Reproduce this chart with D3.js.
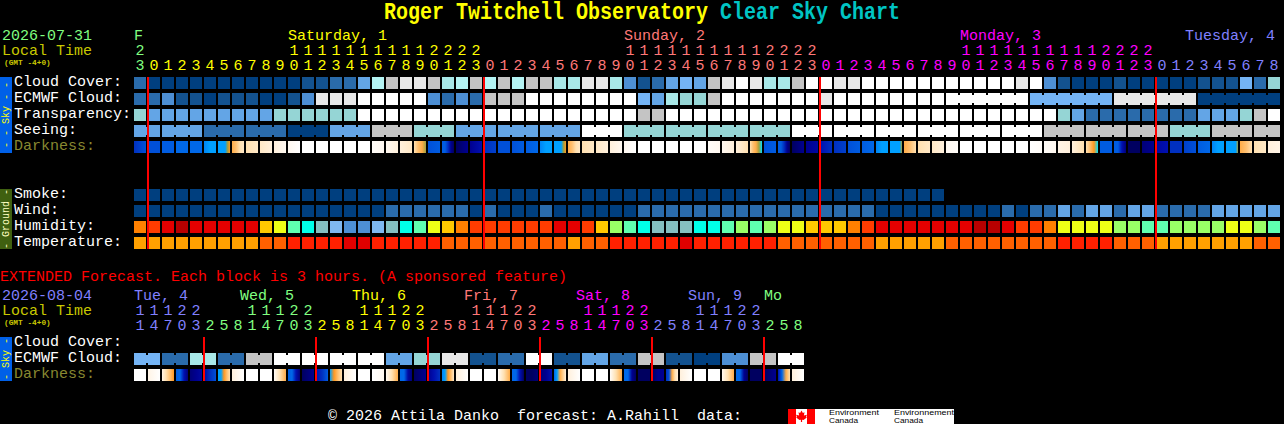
<!DOCTYPE html>
<html>
<head>
<meta charset="utf-8">
<title>Clear Sky Chart</title>
<script src="https://cdnjs.cloudflare.com/ajax/libs/d3/7.8.5/d3.min.js"></script>
<style>
html,body{margin:0;padding:0;background:#000;overflow:hidden}
svg{display:block}
text{font-family:"Liberation Mono",monospace;white-space:pre}
</style>
</head>
<body>
<svg id="chart" width="1284" height="424"></svg>
<script>
// ---------- categories / labels ----------
const titleMain = "Roger Twitchell Observatory";
const titleSub = "Clear Sky Chart";
const mainDate = "2026-07-31";
const extDate = "2026-08-04";
const mainDayLabels = ["F", "Saturday, 1", "Sunday, 2", "Monday, 3", "Tuesday, 4"];
const extDayLabels = ["Tue, 4", "Wed, 5", "Thu, 6", "Fri, 7", "Sat, 8", "Sun, 9", "Mo"];
const skyRows = ["Cloud Cover:", "ECMWF Cloud:", "Transparency:", "Seeing:", "Darkness:"];
const groundRows = ["Smoke:", "Wind:", "Humidity:", "Temperature:"];
const extRows = ["Cloud Cover:", "ECMWF Cloud:", "Darkness:"];

const mainHours = [23,
  0,1,2,3,4,5,6,7,8,9,10,11,12,13,14,15,16,17,18,19,20,21,22,23,
  0,1,2,3,4,5,6,7,8,9,10,11,12,13,14,15,16,17,18,19,20,21,22,23,
  0,1,2,3,4,5,6,7,8,9,10,11,12,13,14,15,16,17,18,19,20,21,22,23,
  0,1,2,3,4,5,6,7,8];
const extHours = [11,14,17,20,23, 2,5,8,11,14,17,20,23, 2,5,8,11,14,17,20,23, 2,5,8,
  11,14,17,20,23, 2,5,8,11,14,17,20,23, 2,5,8,11,14,17,20,23, 2,5,8];

// ---------- series (sky classes 0 darkest blue .. 11 white) ----------
const cloudCover = [2,0,0,0,0,0,0,0,0,0, 0,0,1,1,2,2,4,8,9,10, 10,9,7,8,9,8,9,8,9,9,
  7,7,10,10,7,3,1,2,4,5, 4,9,10,11,10,7,7,9,11,11, 10,10,11,11,11,11,11,11,11,11,
  11,11,11,10,11,3,1,0,0,0, 1,0,0,0,0,0,1,1,1,5, 2,6];
const ecmwfHourly = [2,2,3,1,1,0,1,1,1,0, 0,1,3,10,10,10,11,11,11,11, 11,3,2,3,2,9,9,9,11,11,
  11,11,11,11,11,11,5,4,7,6, 6,9,11,11,11,11,11,11,11,10, 11,11,11,11,11,11,11,11];
const ecmwfSixHourly = [11,5,10,0];
const transparency = [6,4,4,4,4,4,4,4,4,4, 6,6,6,6,6,6,11,11,11,11, 11,11,11,11,11,11,11,11,11,11,
  11,11,11,11,11,11,9,9,11,11, 11,11,11,11,11,11,11,11,11,11, 11,11,11,11,11,11,11,11,11,11,
  11,11,11,11,11,11,6,4,2,2, 2,2,2,2,2,2,4,4,4,6, 9,11];
const seeingThreeHourly = [4,4,2,2,0,4,9,6,4,4,4,11,6,6,6,6,11,11,11,11,11,11,9,9,9,6,9,9];
const smoke = [0,0,0,0,0,0,0,0,0,0, 0,0,0,0,0,0,0,0,0,0, 0,0,0,0,0,0,0,0,0,0,
  0,0,0,0,0,0,0,0,0,0, 0,0,0,0,0,0,0,0,0,0, 0,0,0,0,0,0,0,0];
const wind = [0,0,0,0,0,0,0,0,0,0, 0,0,0,0,0,0,0,0,2,2, 2,2,2,2,0,2,0,0,0,2,
  0,0,0,0,0,0,2,2,2,2, 2,2,2,2,2,2,2,2,2,2, 2,2,2,0,0,0,0,0,0,0,
  0,0,2,0,2,2,4,2,4,4, 2,4,4,2,2,2,2,4,4,4, 4,4];
const humidity = [80,85,90,95,90,90,90,90,90,75, 70,60,55,50,45,40,40,45,50,55,
  60,70,75,80,85,85,85,85,85,85, 90,90,85,75,65,60,55,50,50,50,
  55,55,60,65,60,65,70,70,75,75, 75,80,85,90,90,90,90,90,90,90,
  95,95,90,85,85,80,70,70,70,70, 65,65,60,60,65,65,65,65,70,70, 65,60];
const temperature = [20,20,20,20,20,20,20,20,20,24, 24,28,28,28,28,32,32,28,28,28,
  28,28,24,24,24,24,24,24,24,24, 24,20,24,24,28,28,28,28,28,32,
  28,28,28,28,28,28,24,24,24,24, 24,24,24,20,20,20,20,20,24,24,
  24,24,24,24,24,24,28,28,28,28, 24,24,24,20,20,20,20,20,20,20, 24,24];
// Darkness samples across each block: 0 is full night, 14 is daylight
const darkness = [[3,4],[4,4],[4.5,4.5],[5,5],[5,5],[5.5,6,6],[6,6,6,6,8,9],[9.5,10,11,11.5],[11,11.5],[11.5,12],
  [12,13],[13,14],[14],[14],[14],[14],[14],[13.5,13],[13,12],[12,11.5],
  [11,10,9.5,8],[4,4.5],[4.5,4.5,3,1,0],[0,1],[1,2],[3,3.5],[4,4],[4,4.5],[4.5,5],[5.5,6,6],
  [6,6,6,6,8,9],[9.5,10,11,11.5],[11,11.5],[11.5,12],[12,13],[13,14],[14],[14],[14],[14],
  [14],[13.5,13],[13,12],[12,11],[11,10,9.5,8,7],[4,4.5],[4.5,4.5,3,1,0],[0,1],[1,1.5],[2,3],
  [3,3.5],[4,4.5],[4.5,5],[5.5,6,6],[6,6,6,6,6,8],[9.5,10,11],[11,11.5],[11.5,12],[13,13.5],[14],
  [14],[14],[14],[14],[14,13.5],[13.5,13],[12.5,12],[12,11],[11,10,9,7],[4.5,4.5],
  [4.5,4.5,2,0.5],[0,0],[0.5,1],[1.5,2],[3,3],[3.5,4],[4.5,5],[5.5,6,6],[6,6,6,6,6,8],[9.5,10,11],
  [11,11.5],[12,12.5]];
const extEcmwf = [5,2,7,2,9,11,11,11,11,4,6,10,1,2,11,1,4,2,9,1,0,3,9,11];
const extDarkness = [[14],[12.5,14],[12.5,11,10,9],[4.5,5,2,0.5],[0.5,1,1.5],[1.5,3,4],[6,6,9,10,11],[12,14],
  [14],[14],[13.5,11,9.5],[4.5,5,2,0.5],[0,0.5,1],[2,3,4.5],[6,9,10,11],[12,14],
  [14],[14,13],[13,11,9.5],[5,5,1.5,0.5],[0,0.5,1],[1,2,3],[5.5,6,9,10,11.5],[12,14],
  [14],[14],[13.5,11,9.5],[5,5,2,0],[0,0,0.5],[0.5,1,2],[5,6,9.5,10.5,12],[12,14],
  [14],[14],[13.5,11,9.5],[5,5,1,0],[0,0,0],[0,1,1],[3,4,9.5,11,12],[12,14],
  [14],[14],[13,11,9.5],[5,5,1,0],[0,0,0],[0,0.5,1],[2,5,9.5,11],[12,14]];

// ---------- colour scales ----------
const skyColor = d3.scaleOrdinal().domain(d3.range(12)).range(
  ["#003f7f","#13528f","#2a6bab","#4d8fd4","#63a5e6","#74b4f5","#95d5d5","#a8e8e8","#b4f4f4","#c4c4c4","#e8e8e8","#ffffff"]);
const humidityColor = d3.scaleOrdinal().domain([40,45,50,55,60,65,70,75,80,85,90,95]).range(
  ["#4d8fd4","#7fb8f0","#85c0c0","#00ffe8","#5fffb0","#99ff66","#eeff16","#ffc800","#ff8000","#ff3c00","#e40000","#b80000"]);
const temperatureColor = d3.scaleOrdinal().domain([20,24,28,32]).range(["#ffa000","#ff6000","#ff2000","#e00000"]);
const darknessColor = d3.scaleLinear().domain(d3.range(15)).range(
  ["#000060","#000090","#0010b0","#0030c0","#0050d8","#0068e8","#00a0ff","#00e0ff","#a0a040","#ff9820","#ffc070","#ffe0b0","#fff0dc","#fff8f0","#ffffff"]);
const dayColors = ["#80ff80","#ffff00","#ff7878","#ff00ff","#8080ff","#80ff80","#ffff00","#ff7878","#ff00ff","#8080ff","#80ff80"];

// ---------- scales ----------
const svg = d3.select("#chart");
const mainX = d3.scaleBand().domain(d3.range(mainHours.length)).range([134, 134 + mainHours.length * 14 - 2]).paddingInner(2 / 14);
const extX = d3.scaleBand().domain(d3.range(extHours.length)).range([134, 134 + extHours.length * 14 - 2]).paddingInner(2 / 14);
const rowScale = (rows, top) => d3.scaleBand().domain(rows).range([top, top + rows.length * 16 - 4]).paddingInner(4 / 16);
const skyY = rowScale(skyRows, 77);
const groundY = rowScale(groundRows, 189);
const extY = rowScale(extRows, 337);

// ---------- helpers ----------
function blocks(values, spans) {
  let at = 0;
  return values.map((v, k) => { const b = {start: at, span: spans(k), value: v}; at += b.span; return b; });
}
function drawRow(x, y, data, color) {
  const g = svg.append("g").attr("shape-rendering", "crispEdges");
  const bw = Math.round(x.bandwidth());
  data.forEach(b => {
    for (let c = 0; c < b.span; c++) {
      const px = Math.round(x(b.start + c));
      g.append("rect").attr("x", px).attr("y", Math.round(y)).attr("width", bw).attr("height", 12).attr("fill", color(b.value));
      if (c < b.span - 1) {
        g.append("rect").attr("x", px + bw).attr("y", Math.round(y) + 2).attr("width", 2).attr("height", 8).attr("fill", color(b.value));
      }
    }
  });
}
let gradCount = 0;
const defs = svg.append("defs");
function drawDarkness(x, y, series) {
  const g = svg.append("g").attr("shape-rendering", "crispEdges");
  series.forEach((samples, i) => {
    const id = "dk" + (gradCount++);
    const grad = defs.append("linearGradient").attr("id", id).attr("x1", 0).attr("x2", 1).attr("y1", 0).attr("y2", 0);
    samples.forEach((s, k) => grad.append("stop")
      .attr("offset", samples.length > 1 ? k / (samples.length - 1) : 0)
      .attr("stop-color", darknessColor(s)));
    g.append("rect").attr("x", Math.round(x(i))).attr("y", Math.round(y)).attr("width", Math.round(x.bandwidth())).attr("height", 12).attr("fill", `url(#${id})`);
  });
}
function dayIndex(hours) {
  let d = 0;
  return hours.map((h, i) => { if (i > 0 && h < hours[i - 1]) d++; return d; });
}
function hourAxis(x, hours, days, dayOffset, baseline, fmt) {
  svg.append("g").attr("transform", `translate(0,${baseline})`)
    .call(d3.axisTop(x).tickSize(0).tickPadding(0).tickFormat(i => fmt(hours[i])))
    .call(g => g.select(".domain").remove())
    .call(g => g.attr("font-size", 15).attr("font-family", null))
    .call(g => g.selectAll(".tick text").attr("fill", i => dayColors[days[i] + dayOffset]));
}
function label(str, x, y, fill, size, weight) {
  return svg.append("text").attr("x", x).attr("y", y).attr("fill", fill)
    .attr("font-size", size || 15).attr("font-weight", weight || null).text(str);
}
function titleText(str, x, baseline, fill) {
  svg.append("text").attr("transform", `translate(${x},${baseline}) scale(1,1.15)`)
    .attr("fill", fill).attr("font-size", 20).attr("font-weight", "bold").text(str);
}
function sidebar(y0, y1, fill, txt, textFill) {
  svg.append("rect").attr("x", 0).attr("y", y0).attr("width", 12).attr("height", y1 - y0).attr("fill", fill).attr("shape-rendering", "crispEdges");
  svg.append("text").attr("transform", `translate(9,${(y0 + y1) / 2}) rotate(-90)`)
    .attr("text-anchor", "middle").attr("font-size", 10).attr("fill", textFill).text(txt);
}
function rowLabels(rows, y, lastFill) {
  rows.forEach(r => label(r, 14, y(r) + 9, r === "Darkness:" ? lastFill : "#fff"));
}
function midnightMarks(x, hours, top, height) {
  hours.forEach((h, i) => {
    if (i > 0 && h < hours[i - 1]) {
      svg.append("rect").attr("x", Math.round(x(i)) - 1).attr("y", top).attr("width", 2).attr("height", height)
        .attr("fill", "#ff0000").attr("shape-rendering", "crispEdges");
    }
  });
}

// ---------- title ----------
titleText(titleMain, 384, 18.5, "#ffff00");
titleText(titleSub, 720, 18.5, "#00c4c4");

// ---------- main header ----------
const olive = "#c8c800";
label(mainDate, 2, 40, "#80ff80");
label("Local Time", 2, 55, olive);
label("(GMT -4+0)", 4, 65, olive, 7.8, "bold");
const mainDays = dayIndex(mainHours);
const mainDayX = [134, 288, 624, 960, 1185];
mainDayLabels.forEach((t, k) => label(t, mainDayX[k], 40, dayColors[k]));
hourAxis(mainX, mainHours, mainDays, 0, 55, h => h >= 10 ? Math.floor(h / 10) : "");
hourAxis(mainX, mainHours, mainDays, 0, 70, h => h % 10);

// ---------- main sky block ----------
sidebar(77, 153, "#0060e8", "- - Sky - -", "#ffff00");
rowLabels(skyRows, skyY, "#888830");
const one = () => 1;
drawRow(mainX, skyY("Cloud Cover:"), blocks(cloudCover, one), skyColor);
drawRow(mainX, skyY("ECMWF Cloud:"), blocks(ecmwfHourly.concat(ecmwfSixHourly), k => k < ecmwfHourly.length ? 1 : 6), skyColor);
drawRow(mainX, skyY("Transparency:"), blocks(transparency, one), skyColor);
drawRow(mainX, skyY("Seeing:"), blocks(seeingThreeHourly, k => (k === 0 || k === seeingThreeHourly.length - 1) ? 2 : 3), skyColor);
drawDarkness(mainX, skyY("Darkness:"), darkness);

// ---------- ground block ----------
sidebar(189, 249, "#3f6010", "- Ground -", "#ffffc0");
rowLabels(groundRows, groundY);
drawRow(mainX, groundY("Smoke:"), blocks(smoke, one), skyColor);
drawRow(mainX, groundY("Wind:"), blocks(wind, one), skyColor);
drawRow(mainX, groundY("Humidity:"), blocks(humidity, one), humidityColor);
drawRow(mainX, groundY("Temperature:"), blocks(temperature, one), temperatureColor);
midnightMarks(mainX, mainHours, 77, 172);

// ---------- extended block ----------
label("EXTENDED Forecast. Each block is 3 hours. (A sponsored feature)", 0, 281, "#ff0000");
label(extDate, 2, 300, "#8080ff");
label("Local Time", 2, 315, olive);
label("(GMT -4+0)", 4, 325, olive, 7.8, "bold");
const extDays = dayIndex(extHours);
const extDayX = [134, 240, 352, 464, 576, 688, 764];
const extDayColors = ["#8080ff","#80ff80","#ffff00","#ff7878","#ff00ff","#8080ff","#80ff80"];
extDayLabels.forEach((t, k) => label(t, extDayX[k], 300, extDayColors[k]));
hourAxis(extX, extHours, extDays, 4, 315, h => h >= 10 ? Math.floor(h / 10) : "");
hourAxis(extX, extHours, extDays, 4, 330, h => h % 10);
sidebar(337, 381, "#0060e8", "- Sky -", "#ffff00");
rowLabels(extRows, extY, "#888830");
drawRow(extX, extY("ECMWF Cloud:"), blocks(extEcmwf, () => 2), skyColor);
drawDarkness(extX, extY("Darkness:"), extDarkness);
midnightMarks(extX, extHours, 337, 44);

// ---------- footer ----------
label("\u00a9 2026 Attila Danko  forecast: A.Rahill  data:", 328, 420, "#fff");
const logo = svg.append("g");
logo.append("rect").attr("x", 788).attr("y", 409).attr("width", 166).attr("height", 15).attr("fill", "#fff").attr("shape-rendering", "crispEdges");
logo.append("rect").attr("x", 788).attr("y", 409).attr("width", 8).attr("height", 15).attr("fill", "#ff0000").attr("shape-rendering", "crispEdges");
logo.append("rect").attr("x", 807).attr("y", 409).attr("width", 8).attr("height", 15).attr("fill", "#ff0000").attr("shape-rendering", "crispEdges");
logo.append("path").attr("transform", "translate(801.5,416.5)")
  .attr("d", "M0,-6 L1.4,-3.4 L3,-4.2 L2.4,-1 L5.4,-1.8 L4.6,0.4 L5.4,1 L2,3.4 L0.6,3.2 L0.6,5.6 L-0.6,5.6 L-0.6,3.2 L-2,3.4 L-5.4,1 L-4.6,0.4 L-5.4,-1.8 L-2.4,-1 L-3,-4.2 L-1.4,-3.4 Z")
  .attr("fill", "#ff0000");
[["Environment", 829, 50], ["Environnement", 894, 60]].forEach(([t, x, w]) => {
  logo.append("text").attr("x", x).attr("y", 415).attr("font-size", 8).attr("fill", "#000")
    .attr("textLength", w).attr("lengthAdjust", "spacingAndGlyphs").style("font-family", "'Liberation Sans',sans-serif").text(t);
  logo.append("text").attr("x", x).attr("y", 423).attr("font-size", 8).attr("fill", "#000")
    .attr("textLength", 29).attr("lengthAdjust", "spacingAndGlyphs").style("font-family", "'Liberation Sans',sans-serif").text("Canada");
});
</script>
</body>
</html>
